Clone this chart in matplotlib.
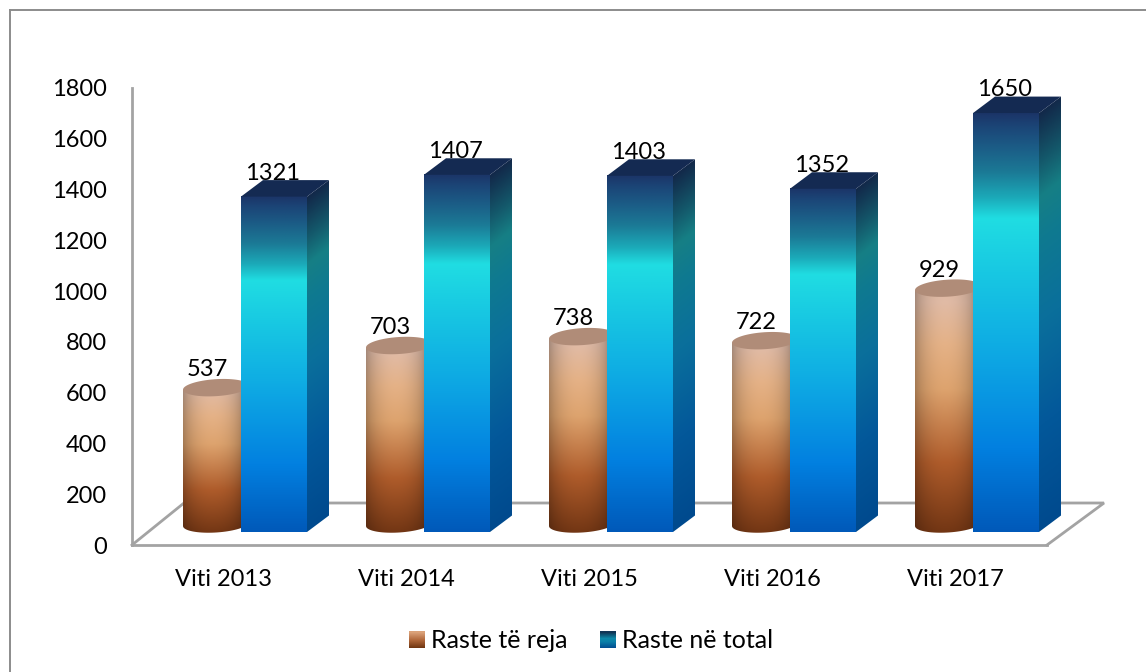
import numpy as np
import matplotlib
matplotlib.use("Agg")
import matplotlib.pyplot as plt
from matplotlib.colors import LinearSegmentedColormap
from matplotlib.patches import Polygon, Patch, Rectangle, PathPatch
from matplotlib.path import Path
from matplotlib.transforms import Affine2D
from matplotlib.legend_handler import HandlerBase

categories = ["Viti 2013", "Viti 2014", "Viti 2015", "Viti 2016", "Viti 2017"]
new_cases = [537, 703, 738, 722, 929]
total_cases = [1321, 1407, 1403, 1352, 1650]
series_names = ["Raste të reja", "Raste në total"]
y_ticks = [0, 200, 400, 600, 800, 1000, 1200, 1400, 1600, 1800]

plt.rcParams["font.family"] = ["Lato", "DejaVu Sans"]
FS = 17
W, H = 1146, 672
GRAY = "#a3a3a3"

fig = plt.figure(figsize=(W / 100, H / 100), dpi=100, facecolor="white")


def rect_px(l, t, r, b):
    return [l / W, 1 - b / H, (r - l) / W, (b - t) / H]


# frame (top and left only)
fig.add_artist(plt.Line2D([9.5 / W, 9.5 / W], [0, 1 - 9.5 / H], color="#8c8c8c", lw=1.4))
fig.add_artist(plt.Line2D([9.5 / W, 1], [1 - 9.5 / H, 1 - 9.5 / H], color="#8c8c8c", lw=1.4))

ax = fig.add_axes(rect_px(132, 88, 1047, 545))
ax.patch.set_alpha(0)
ax.set_xlim(0, 5)
ax.set_ylim(0, 1800)
PX_X = 183.0
PX_Y = 457.0 / 1800

for s in ("top", "right"):
    ax.spines[s].set_visible(False)
for s in ("left", "bottom"):
    ax.spines[s].set_color(GRAY)
    ax.spines[s].set_linewidth(2.0)
ax.set_yticks(y_ticks)
ax.set_xticks(np.arange(5) + 0.5)
ax.set_xticklabels(categories, fontsize=FS)
ax.tick_params(axis="both", length=0, labelsize=FS, colors="black")
ax.tick_params(axis="y", pad=18)
ax.tick_params(axis="x", pad=17.5)

# floor
fdx, fdy = 57 / PX_X, 42 / PX_Y
ax.plot([0, 52 / PX_X, 5 + fdx, 5], [0, fdy, fdy, 0], color=GRAY, lw=2.0,
        clip_on=False, zorder=1, solid_joinstyle="miter")

blue = LinearSegmentedColormap.from_list("blue", [
    (0.00, "#0059b9"), (0.20, "#0280e0"), (0.45, "#0fade4"), (0.62, "#18c8e2"),
    (0.75, "#20dde2"), (0.80, "#1ba9b8"), (0.86, "#1b7a96"), (0.92, "#1b5c86"),
    (0.97, "#1b4577"), (1.00, "#1b3568")])
side = LinearSegmentedColormap.from_list("side", [
    (0.00, "#004a8e"), (0.25, "#03589a"), (0.50, "#0a6f9c"), (0.70, "#0f7a90"),
    (0.80, "#167f85"), (0.88, "#145a6c"), (0.95, "#133d58"), (1.00, "#12294a")])
copper = LinearSegmentedColormap.from_list("copper", [
    (0.00, "#6f3413"), (0.27, "#ab5a2a"), (0.55, "#d9a06c"), (0.72, "#e0ae84"),
    (0.88, "#dcb7a2"), (1.00, "#d6b29e")])
legend_copper = LinearSegmentedColormap.from_list("lc", ["#6e3410", "#b0673a", "#dca47c"])
legend_blue = LinearSegmentedColormap.from_list("lb", [
    (0.0, "#024c90"), (0.4, "#0a7fa8"), (0.6, "#0c88a8"), (1.0, "#103050")])

sh_box = ax.transData + Affine2D().translate(0, 13)
sh_cyl = ax.transData + Affine2D().translate(0, 21)

cyl_c, cyl_w = (216 - 132) / PX_X, 66 / PX_X
ell_h = 17 / PX_Y
box_l, box_w = (241 - 132) / PX_X, 66 / PX_X
ddx, ddy = 22 / PX_X, 16.5 / PX_Y
tilt = 2.0 / PX_Y  # rise across half the cylinder, in data units
xs = np.arange(5)


def show(arr, extent, trans, z):
    return ax.imshow(arr, extent=extent, origin="lower", aspect="auto", transform=trans,
                     zorder=z, interpolation="bilinear")


cyl_bars = ax.bar(xs + cyl_c, new_cases, width=cyl_w, color="none", transform=sh_cyl, zorder=3)
box_bars = ax.bar(xs + box_l + box_w / 2, total_cases, width=box_w, color="#0fade4",
                  transform=sh_box, zorder=4)

tv = np.linspace(0, 1, 256)
for i, (nv, tot) in enumerate(zip(new_cases, total_cases)):
    # cylinder body with rounded bottom
    c = i + cyl_c
    xx = np.linspace(-1, 1, 80)
    shade = 0.55 + 0.47 * np.sqrt(np.clip(1 - (xx + 0.1) ** 2, 0, 1))
    grad = copper(tv)[:, :3]
    arr = np.clip(grad[:, None, :] * shade[None, :, None], 0, 1)
    im = show(arr, [c - cyl_w / 2, c + cyl_w / 2, -ell_h / 2 - tilt, nv + ell_h], sh_cyl, 3.1)
    th = np.linspace(np.pi, 2 * np.pi, 40)
    vx = list(c + cyl_w / 2 * np.cos(th)) + [c + cyl_w / 2, c - cyl_w / 2, c - cyl_w / 2]
    vy = list(ell_h / 2 * np.sin(th) + tilt * np.cos(th)) + [nv + tilt, nv - tilt, 0]
    cp = PathPatch(Path(np.column_stack([vx, vy]), closed=True), transform=sh_cyl)
    im.set_clip_path(cp)
    im.set_clip_box(fig.bbox)
    th2 = np.linspace(0, 2 * np.pi, 80)
    ax.add_patch(Polygon(np.column_stack([c + cyl_w / 2 * np.cos(th2),
                                          nv + ell_h / 2 * np.sin(th2) + tilt * np.cos(th2)]),
                         closed=True, facecolor="#b08c78", edgecolor="none",
                         transform=sh_cyl, zorder=3.2))
    ax.annotate(str(nv), (c, nv), xycoords=sh_cyl, xytext=(-6.5, 13),
                textcoords="offset points", ha="center", va="center", fontsize=FS, zorder=10)

    # box front
    l = i + box_l
    r = l + box_w
    show(blue(tv)[:, None, :3], [l, r, 0, tot], sh_box, 4.1)

    # box side
    rows = 300
    yy = np.linspace(0, tot + ddy, rows)
    uu = np.linspace(0, 1, 30)
    t = np.clip((yy[:, None] - uu[None, :] * ddy) / tot, 0, 1)
    im = show(side(t)[:, :, :3], [r, r + ddx, 0, tot + ddy], sh_box, 4.0)
    cp = Polygon([(r, 0), (r + ddx, ddy), (r + ddx, tot + ddy), (r, tot)], closed=True,
                 transform=sh_box)
    im.set_clip_path(cp)
    im.set_clip_box(fig.bbox)

    # box top
    ax.add_patch(Polygon([(l, tot), (l + ddx, tot + ddy), (r + ddx, tot + ddy), (r, tot)],
                         closed=True, facecolor="#142a52", edgecolor="none",
                         transform=sh_box, zorder=4.2, clip_on=False))
    ax.annotate(str(tot), (l + box_w / 2, tot), xycoords=sh_box, xytext=(-0.8, 17),
                textcoords="offset points", ha="center", va="center", fontsize=FS, zorder=10,
                annotation_clip=False)

ax.set_xlim(0, 5)
ax.set_ylim(0, 1800)


class GradHandler(HandlerBase):
    def __init__(self, cmap):
        super().__init__()
        self.cmap = cmap

    def create_artists(self, legend, orig, xd, yd, w, h, fs, trans):
        n = 16
        size = 16 * 0.72
        out = []
        for k in range(n):
            out.append(Rectangle((-xd + (w - size) / 2, -yd + (h - size) / 2 + size * k / n),
                                 size, size / n + 0.2, facecolor=self.cmap((k + 0.5) / n),
                                 edgecolor="none", transform=trans))
        return out


h1, h2 = Patch(label=series_names[0]), Patch(label=series_names[1])
leg = ax.legend(handles=[h1, h2], labels=series_names, frameon=False, ncol=2, fontsize=18,
                handler_map={h1: GradHandler(legend_copper), h2: GradHandler(legend_blue)},
                loc="center", bbox_to_anchor=((591 - 132) / 915, (545 - 641) / 457),
                handlelength=0.64, handletextpad=0.24, columnspacing=1.3,
                borderaxespad=0, borderpad=0)

fig.savefig("out.png", dpi=100, facecolor="white")
